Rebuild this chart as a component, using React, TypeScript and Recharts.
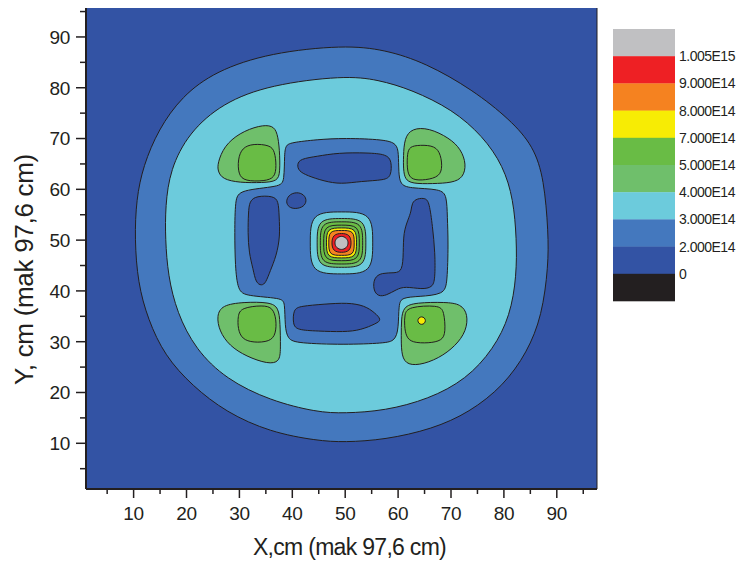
import { ScatterChart, Scatter, XAxis, YAxis, CartesianGrid, ReferenceLine, Legend, Label } from "recharts";

type Pt = [number, number];

// axis ticks (major every 10, minor every 5)
const xTicks = [5, 10, 15, 20, 25, 30, 35, 40, 45, 50, 55, 60, 65, 70, 75, 80, 85, 90, 95];
const yTicks = [5, 10, 15, 20, 25, 30, 35, 40, 45, 50, 55, 60, 65, 70, 75, 80, 85, 90, 95];
const xTitle = "X,cm (mak 97,6 cm)";
const yTitle = "Y, cm (mak 97,6 cm)";

// colour scale, top to bottom
const levelLabels = ["1.005E15", "9.000E14", "8.000E14", "7.000E14", "5.000E14", "4.000E14", "3.000E14", "2.000E14", "0"];
const levelColors = ["#C0C0C2", "#EE2024", "#F58220", "#F7EC04", "#69BC45", "#6FBF6B", "#6CCBDC", "#4478BE", "#3353A4", "#231F20"];

// contour outlines (x, y in cm)
const ring2e14: Pt[] = [
  [49.8, 88.4], [57.5, 87.5], [65.2, 84.9], [74.1, 79.6], [81.2, 73.7], [85.6, 68.5], [87.6, 62.0], [88.4, 51.5],
  [88.4, 44.9], [87.2, 35.1], [84.4, 27.9], [79.9, 21.3], [73.5, 16.1], [66.5, 12.8], [57.5, 10.7], [49.8, 10.2],
  [44.7, 10.5], [35.8, 12.2], [27.5, 16.1], [21.1, 21.3], [15.9, 27.2], [12.7, 34.4], [10.8, 41.6], [10.2, 50.2],
  [10.5, 58.0], [11.8, 64.6], [14.7, 71.8], [19.1, 78.3], [25.5, 83.3], [35.8, 86.9],
];
const ring3e14: Pt[] = [
  [49.8, 82.4], [56.2, 81.6], [62.6, 79.6], [70.3, 75.7], [76.0, 70.5], [79.9, 64.6], [81.8, 58.0], [82.4, 50.2],
  [82.4, 43.0], [81.2, 35.1], [78.0, 28.5], [72.9, 22.6], [65.8, 18.7], [57.5, 16.4], [49.8, 15.9], [44.7, 16.1],
  [35.8, 18.4], [27.5, 22.6], [21.7, 28.5], [18.2, 35.7], [16.5, 43.0], [16.0, 50.2], [16.0, 56.7], [16.9, 63.9],
  [20.4, 71.1], [26.8, 77.0], [35.8, 80.6],
];
const innerLow: Pt[] = [
  [39.6, 69.2], [44.7, 69.8], [49.8, 70.1], [57.5, 69.8], [59.7, 69.0], [60.1, 67.2], [60.1, 63.3], [60.4, 61.0],
  [62.0, 60.2], [68.1, 60.1], [69.2, 58.7], [69.3, 54.7], [69.5, 49.5], [69.3, 41.6], [68.7, 39.3], [63.9, 38.9],
  [60.7, 38.7], [60.1, 37.4], [60.1, 32.5], [59.4, 30.2], [57.5, 29.7], [49.8, 29.4], [40.9, 29.7], [39.1, 30.5],
  [38.6, 33.1], [38.6, 37.7], [38.0, 38.6], [31.3, 39.0], [29.7, 40.0], [29.2, 44.9], [29.1, 51.5], [29.2, 58.0],
  [30.0, 59.9], [37.7, 60.5], [38.5, 61.6], [38.5, 67.2], [38.8, 68.6],
];
const blobTop: Pt[] = [
  [40.9, 64.9], [41.5, 66.0], [44.7, 66.5], [48.6, 67.2], [54.3, 67.2], [57.8, 66.9], [58.8, 65.6], [58.7, 62.6],
  [57.5, 61.8], [53.0, 61.6], [49.2, 61.0], [46.0, 61.6], [42.8, 62.7], [41.2, 63.6],
];
const blobBottom: Pt[] = [
  [40.2, 36.4], [41.5, 37.0], [46.0, 37.4], [50.5, 37.7], [53.7, 37.1], [55.6, 35.7], [56.9, 34.3], [55.9, 33.6],
  [53.0, 32.3], [49.8, 31.9], [44.7, 32.1], [40.9, 32.3], [40.1, 33.4],
];
const blobLeft: Pt[] = [
  [31.9, 57.7], [33.2, 58.7], [36.4, 58.7], [37.4, 57.7], [37.5, 54.7], [37.7, 50.8], [37.0, 46.9], [35.8, 43.9],
  [35.0, 41.6], [34.2, 41.0], [33.1, 41.6], [32.6, 44.3], [31.8, 47.5], [31.6, 51.5], [31.7, 55.4],
];
const blobSmall: Pt[] = [
  [38.8, 57.8], [39.5, 59.1], [41.2, 59.5], [42.5, 58.7], [42.7, 57.4], [41.9, 56.4], [40.2, 56.1], [39.1, 56.7],
];
const blobRight: Pt[] = [
  [62.6, 57.4], [63.6, 58.2], [65.2, 58.3], [65.9, 57.4], [66.5, 52.8], [67.0, 47.5], [67.0, 42.3], [66.5, 40.7],
  [64.5, 40.3], [61.3, 40.9], [59.7, 40.3], [57.8, 39.1], [56.2, 38.9], [55.3, 40.2], [55.4, 42.6], [56.9, 43.6],
  [59.4, 43.5], [60.8, 43.9], [61.0, 47.5], [61.0, 51.5], [61.9, 54.1], [62.5, 55.7],
];
const lobeTL4: Pt[] = [
  [25.9, 65.2], [27.1, 68.5], [30.0, 71.1], [33.8, 72.6], [36.3, 72.6], [37.2, 71.1], [37.6, 67.8], [37.7, 63.3],
  [37.2, 61.6], [34.5, 61.3], [30.0, 61.3], [26.8, 62.0], [25.9, 63.6],
];
const lobeTL5: Pt[] = [
  [29.7, 65.9], [30.5, 68.2], [32.6, 69.0], [35.8, 68.7], [36.7, 67.5], [37.0, 64.6], [36.7, 62.3], [34.8, 61.6],
  [31.0, 61.6], [29.8, 62.9],
];
const lobeTR4: Pt[] = [
  [61.0, 66.5], [61.2, 70.1], [62.6, 72.0], [65.8, 72.1], [69.7, 70.1], [71.9, 67.9], [72.9, 64.9], [72.3, 62.3],
  [70.3, 61.3], [66.5, 61.1], [62.6, 61.1], [61.3, 62.0], [61.0, 63.9],
];
const lobeTR5: Pt[] = [
  [61.7, 66.5], [62.0, 68.2], [63.3, 68.7], [66.5, 68.7], [67.9, 67.5], [68.4, 64.6], [67.9, 62.5], [65.2, 61.8],
  [62.6, 61.8], [61.7, 63.3],
];
const lobeBL4: Pt[] = [
  [25.7, 35.1], [26.7, 37.2], [30.7, 37.8], [35.8, 37.8], [37.4, 36.7], [37.7, 33.8], [37.8, 28.5], [37.6, 26.0],
  [35.4, 25.6], [31.3, 27.1], [28.1, 29.2], [26.2, 32.1],
];
const lobeBL5: Pt[] = [
  [29.7, 35.1], [30.3, 36.7], [34.5, 37.2], [36.3, 36.7], [37.0, 34.4], [36.9, 31.5], [35.8, 30.0], [32.6, 29.8],
  [30.5, 30.5], [29.7, 32.5],
];
const lobeBR4: Pt[] = [
  [60.6, 34.4], [61.0, 36.9], [63.3, 37.7], [69.0, 37.8], [71.9, 37.4], [73.2, 35.4], [72.9, 32.1], [70.9, 29.2],
  [67.7, 26.7], [63.9, 25.3], [61.3, 25.6], [60.6, 27.9], [60.6, 31.2],
];
const lobeBR5: Pt[] = [
  [61.2, 35.4], [61.9, 36.9], [67.7, 37.2], [68.7, 36.1], [69.0, 31.8], [68.3, 30.2], [65.8, 29.7], [62.6, 29.8],
  [61.5, 31.0], [61.2, 33.1],
];
const dotBR7: Pt[] = [
  [65.23, 34.15], [65.0, 34.72], [64.45, 34.96], [63.9, 34.72], [63.67, 34.15], [63.9, 33.58], [64.45, 33.34], [65.0, 33.58],
];
// central peak rings
const peak3: Pt[] = [[55.2, 49.45], [55.2, 55.55], [49.3, 55.55], [43.4, 55.55], [43.4, 49.45], [43.4, 43.35], [49.3, 43.35], [55.2, 43.35]];
const peak4: Pt[] = [[53.9, 49.45], [53.9, 54.25], [49.3, 54.25], [44.7, 54.25], [44.7, 49.45], [44.7, 44.65], [49.3, 44.65], [53.9, 44.65]];
const peak5: Pt[] = [[53.3, 49.45], [53.3, 53.6], [49.3, 53.6], [45.3, 53.6], [45.3, 49.45], [45.3, 45.3], [49.3, 45.3], [53.3, 45.3]];
const peak6: Pt[] = [[52.67, 49.45], [52.67, 52.95], [49.3, 52.95], [45.93, 52.95], [45.93, 49.45], [45.93, 45.95], [49.3, 45.95], [52.67, 45.95]];
const peak7: Pt[] = [[52.14, 49.45], [52.14, 52.4], [49.3, 52.4], [46.46, 52.4], [46.46, 49.45], [46.46, 46.5], [49.3, 46.5], [52.14, 46.5]];
const peak8: Pt[] = [[51.7, 49.45], [51.7, 51.9], [49.3, 51.9], [46.9, 51.9], [46.9, 49.45], [46.9, 47.0], [49.3, 47.0], [51.7, 47.0]];
const peak9: Pt[] = [[51.2, 49.45], [50.9, 51.1], [49.3, 51.4], [47.7, 51.1], [47.4, 49.45], [47.7, 47.8], [49.3, 47.5], [50.9, 47.8]];
const peak10: Pt[] = [[50.67, 49.45], [50.27, 50.45], [49.3, 50.87], [48.33, 50.45], [47.93, 49.45], [48.33, 48.45], [49.3, 48.03], [50.27, 48.45]];

const contours: { key: string; fill: string; pts: Pt[] }[] = [
  { key: "r2", fill: "#4478BE", pts: ring2e14 },
  { key: "r3", fill: "#6CCBDC", pts: ring3e14 },
  { key: "in", fill: "#4478BE", pts: innerLow },
  { key: "bt", fill: "#3353A4", pts: blobTop },
  { key: "bb", fill: "#3353A4", pts: blobBottom },
  { key: "bl", fill: "#3353A4", pts: blobLeft },
  { key: "bs", fill: "#3353A4", pts: blobSmall },
  { key: "br", fill: "#3353A4", pts: blobRight },
  { key: "tl4", fill: "#6FBF6B", pts: lobeTL4 },
  { key: "tl5", fill: "#69BC45", pts: lobeTL5 },
  { key: "tr4", fill: "#6FBF6B", pts: lobeTR4 },
  { key: "tr5", fill: "#69BC45", pts: lobeTR5 },
  { key: "bl4", fill: "#6FBF6B", pts: lobeBL4 },
  { key: "bl5", fill: "#69BC45", pts: lobeBL5 },
  { key: "br4", fill: "#6FBF6B", pts: lobeBR4 },
  { key: "br5", fill: "#69BC45", pts: lobeBR5 },
  { key: "br7", fill: "#F7EC04", pts: dotBR7 },
  { key: "p3", fill: "#6CCBDC", pts: peak3 },
  { key: "p4", fill: "#6FBF6B", pts: peak4 },
  { key: "p5", fill: "#69BC45", pts: peak5 },
  { key: "p6", fill: "#69BC45", pts: peak6 },
  { key: "p7", fill: "#F7EC04", pts: peak7 },
  { key: "p8", fill: "#F58220", pts: peak8 },
  { key: "p9", fill: "#EE2024", pts: peak9 },
  { key: "p10", fill: "#C0C0C2", pts: peak10 },
];

const FONT = "'Liberation Sans', Arial, sans-serif";
const INK = "#231F20";

function XTick(props: any) {
  const { x, y, payload } = props;
  const major = payload.value % 10 === 0;
  return (
    <g>
      <line x1={x} y1={y} x2={x} y2={y + (major ? 9 : 5)} stroke={INK} strokeWidth={1.5} />
      {major && (
        <text x={x} y={y + 31} textAnchor="middle" fontFamily={FONT} fontSize={19} letterSpacing={-0.3} fill={INK}>
          {payload.value}
        </text>
      )}
    </g>
  );
}

function YTick(props: any) {
  const { x, y, payload } = props;
  const major = payload.value % 10 === 0;
  return (
    <g>
      <line x1={x - (major ? 10 : 6)} y1={y} x2={x} y2={y} stroke={INK} strokeWidth={1.5} />
      {major && (
        <text x={x - 16} y={y} dy="0.36em" textAnchor="end" fontFamily={FONT} fontSize={19} letterSpacing={-0.3} fill={INK}>
          {payload.value}
        </text>
      )}
    </g>
  );
}

function XTitle(props: any) {
  const vb = props.viewBox || { x: 86, y: 489, width: 511, height: 74 };
  return (
    <text x={vb.x + vb.width / 2 + 8} y={vb.y + vb.height - 8} textAnchor="middle" fontFamily={FONT} fontSize={23} letterSpacing={-0.7} fill={INK}>
      {xTitle}
    </text>
  );
}

function YTitle(props: any) {
  const vb = props.viewBox || { x: 26, y: 8, width: 60, height: 481 };
  const cx = vb.x + 7;
  const cy = vb.y + vb.height / 2 + 21;
  return (
    <text x={cx} y={cy} transform={`rotate(-90, ${cx}, ${cy})`} textAnchor="middle" fontFamily={FONT} fontSize={26} letterSpacing={-0.3} fill={INK}>
      {yTitle}
    </text>
  );
}

function LevelLegend() {
  const h = 27.2;
  return (
    <svg width={123} height={275} style={{ display: "block", overflow: "visible" }}>
      {levelColors.map((c, i) => (
        <rect key={c} x={0} y={i * h} width={62} height={h + 0.3} fill={c} />
      ))}
      {levelLabels.map((l, i) => (
        <text key={l} x={66} y={(i + 1) * h} dy="0.36em" fontFamily={FONT} fontSize={14} letterSpacing={-0.5} fill={INK}>
          {l}
        </text>
      ))}
    </svg>
  );
}

export default function App() {
  return (
    <div style={{ position: "absolute", left: 0, top: 0, width: 736, height: 563, background: "#fff" }}>
      <ScatterChart width={736} height={563} margin={{ top: 8, right: 139, bottom: 0, left: 26 }}>
        <CartesianGrid fill="#3353A4" horizontal={false} vertical={false} />
        <XAxis
          type="number"
          dataKey="x"
          domain={[1, 97.6]}
          allowDataOverflow
          ticks={xTicks}
          interval={0}
          tickSize={0}
          tickMargin={0}
          tickLine={false}
          height={74}
          axisLine={{ stroke: INK, strokeWidth: 2 }}
          tick={(p: any) => <XTick {...p} />}
        >
          <Label content={(p: any) => <XTitle {...p} />} />
        </XAxis>
        <YAxis
          type="number"
          dataKey="y"
          domain={[1, 95.7]}
          allowDataOverflow
          ticks={yTicks}
          interval={0}
          tickSize={0}
          tickMargin={0}
          tickLine={false}
          width={60}
          axisLine={{ stroke: INK, strokeWidth: 2 }}
          tick={(p: any) => <YTick {...p} />}
        >
          <Label content={(p: any) => <YTitle {...p} />} />
        </YAxis>
        {contours.map((c) => (
          <Scatter
            key={c.key}
            data={c.pts.map(([x, y]) => ({ x, y }))}
            line={{ fill: c.fill, stroke: INK, strokeWidth: 1 }}
            lineType="joint"
            lineJointType="basisClosed"
            shape={() => <g />}
            legendType="none"
            isAnimationActive={false}
          />
        ))}
        <ReferenceLine x={97.6} stroke={INK} strokeWidth={1} />
        <Legend
          layout="vertical"
          align="center"
          verticalAlign="middle"
          wrapperStyle={{ left: 613, top: 29, width: 123, height: 275 }}
          content={() => <LevelLegend />}
        />
      </ScatterChart>
    </div>
  );
}
